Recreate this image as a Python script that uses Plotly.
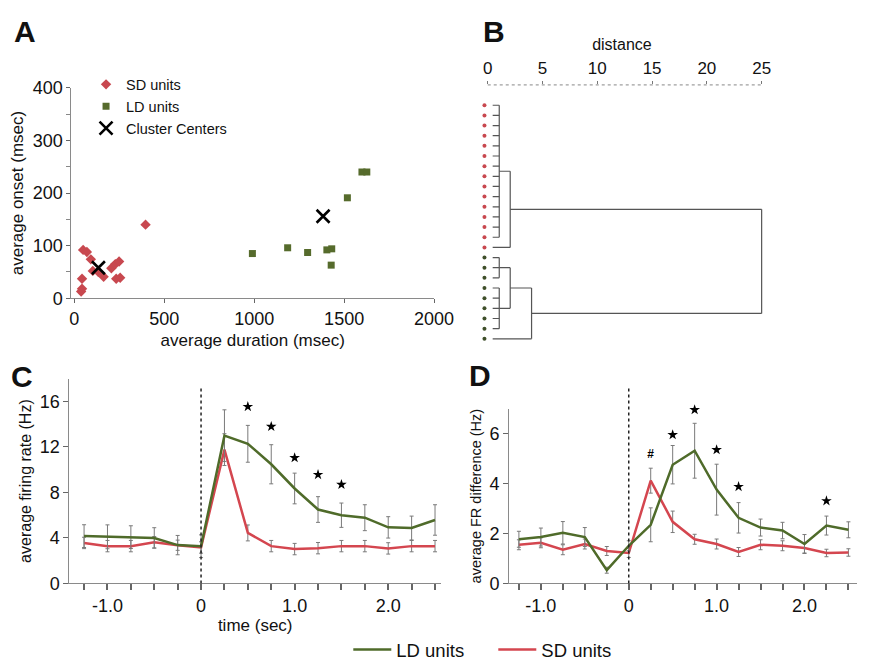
import plotly.graph_objects as go

W, H = 877, 663
OFF = 8  # page body margin offset (px) applied by the browser
FONT = "Liberation Sans, Arial, Helvetica, sans-serif"
GREEN = "#4f6b2a"
RED = "#d4464f"
SD_MARK = "#c8484f"
LD_MARK = "#566b2c"
AXC = "#8a8a8a"
ERRC = "#7a7a7a"

# ---------------- Panel A data ----------------
sd_duration = [49, 70, 92, 103, 134, 43, 43, 38, 163, 206, 233, 255, 228, 249, 396]
sd_onset = [92, 88, 74, 52, 50, 37, 18, 13, 41, 57, 37, 39, 65, 70, 140]
ld_duration = [990, 1186, 1297, 1404, 1431, 1428, 1518, 1599, 1626]
ld_onset = [85, 96, 87, 92, 94, 63, 191, 240, 240]
center_duration = [134, 1383]
center_onset = [58, 156]

# ---------------- Panel B data (dendrogram) ----------------
leaf_groups = ["SD"] * 15 + ["LD"] * 9
# (node name, children (leaf indices or node names), merge distance)
dendro_merges = [
    ("n1", list(range(0, 14)), 1.05),
    ("n2", ["n1", 14], 2.05),
    ("n3", [15, 16, 17], 1.05),
    ("n4", [18, 19, 20, 21, 22], 1.05),
    ("n5", ["n3", "n4"], 2.05),
    ("n6", ["n5", 23], 4.0),
    ("root", ["n2", "n6"], 25.0),
]
distance_ticks = [0, 5, 10, 15, 20, 25]

# ---------------- Panel C / D data ----------------
time = [-1.25, -1.0, -0.75, -0.5, -0.25, 0, 0.25, 0.5, 0.75, 1.0, 1.25, 1.5, 1.75, 2.0, 2.25, 2.5]
time_tick_labels = {-1.0: "-1.0", 0: "0", 1.0: "1.0", 2.0: "2.0"}

c_ld = [4.16, 4.10, 4.07, 4.00, 3.37, 3.27, 13.0, 12.28, 10.48, 8.35, 6.5, 6.0, 5.78, 4.93, 4.87, 5.58]
c_ld_err = [1.0, 1.05, 1.0, 0.9, 0.85, 1.0, 2.27, 1.62, 1.72, 1.35, 1.13, 1.07, 1.14, 0.94, 1.05, 1.34]
c_sd = [3.56, 3.28, 3.28, 3.62, 3.36, 3.16, 11.77, 4.44, 3.28, 3.02, 3.10, 3.28, 3.28, 3.08, 3.28, 3.28]
c_sd_err = [0.5, 0.5, 0.5, 0.5, 0.45, 0.5, 1.4, 0.7, 0.5, 0.5, 0.5, 0.5, 0.5, 0.5, 0.5, 0.5]
c_star_time = [0.5, 0.75, 1.0, 1.25, 1.5]
c_star_y = [15.55, 13.8, 11.05, 9.57, 8.7]

d_ld = [1.77, 1.86, 2.03, 1.86, 0.53, 1.51, 2.35, 4.76, 5.32, 3.76, 2.63, 2.24, 2.12, 1.58, 2.32, 2.15]
d_ld_err = [0.32, 0.36, 0.45, 0.38, 0.12, 0.2, 0.68, 0.77, 1.1, 1.02, 0.61, 0.34, 0.33, 0.38, 0.38, 0.32]
d_sd = [1.55, 1.63, 1.35, 1.58, 1.30, 1.22, 4.12, 2.47, 1.77, 1.58, 1.26, 1.55, 1.51, 1.42, 1.22, 1.24]
d_sd_err = [0.2, 0.2, 0.2, 0.2, 0.18, 0.18, 0.5, 0.43, 0.2, 0.2, 0.18, 0.2, 0.2, 0.2, 0.15, 0.15]
d_star_time = [0.5, 0.75, 1.0, 1.25, 2.25]
d_star_y = [5.96, 6.96, 5.36, 3.88, 3.31]
d_hash_time = [0.25]
d_hash_y = [5.15]


def fx(p):
    return (p - OFF) / W


def fy(p):
    return 1 - (p - OFF) / H


def px_x(a, b):
    return [fx(a), fx(b)]


def px_y(top, bottom):
    return [fy(bottom), fy(top)]


fig = go.Figure()

# ---------- Panel A ----------
fig.add_trace(go.Scatter(x=sd_duration, y=sd_onset, mode="markers", name="SD units",
                         marker=dict(symbol="diamond", size=8, color=SD_MARK),
                         xaxis="x", yaxis="y", legend="legend", cliponaxis=False))
fig.add_trace(go.Scatter(x=ld_duration, y=ld_onset, mode="markers", name="LD units",
                         marker=dict(symbol="square", size=7, color=LD_MARK),
                         xaxis="x", yaxis="y", legend="legend", cliponaxis=False))
fig.add_trace(go.Scatter(x=center_duration, y=center_onset, mode="markers", name="Cluster Centers",
                         marker=dict(symbol="x-thin", size=13, line=dict(width=2.6, color="black"),
                                     color="black"),
                         xaxis="x", yaxis="y", legend="legend", cliponaxis=False))

# ---------- Panel B (dendrogram) ----------
LEAF_DOT_X = -0.3
LEAF_LINE_START = 0.45
node_pos = {}
node_h = {}
for i in range(len(leaf_groups)):
    node_pos[i] = i
    node_h[i] = LEAF_LINE_START
dx, dy = [], []
for name, children, h in dendro_merges:
    ys = [node_pos[c] for c in children]
    for c in children:
        dx += [node_h[c], h, None]
        dy += [node_pos[c], node_pos[c], None]
    dx += [h, h, None]
    dy += [min(ys), max(ys), None]
    node_pos[name] = (min(ys) + max(ys)) / 2
    node_h[name] = h
fig.add_trace(go.Scatter(x=dx, y=dy, mode="lines", line=dict(color="#555555", width=1.2),
                         xaxis="x2", yaxis="y2", showlegend=False, hoverinfo="skip"))
leaf_idx = list(range(len(leaf_groups)))
fig.add_trace(go.Scatter(x=[LEAF_DOT_X] * len(leaf_idx), y=leaf_idx, mode="markers",
                         marker=dict(size=4, color=[SD_MARK if g == "SD" else "#3f4f2a" for g in leaf_groups]),
                         xaxis="x2", yaxis="y2", showlegend=False, cliponaxis=False))

# ---------- Panel C ----------
fig.add_trace(go.Scatter(x=time, y=c_sd, mode="lines", name="SD units",
                         line=dict(color=RED, width=2.5),
                         error_y=dict(type="data", array=c_sd_err, color=ERRC, thickness=1, width=2),
                         xaxis="x3", yaxis="y3", legend="legend2"))
fig.add_trace(go.Scatter(x=time, y=c_ld, mode="lines", name="LD units",
                         line=dict(color=GREEN, width=2.5),
                         error_y=dict(type="data", array=c_ld_err, color=ERRC, thickness=1, width=2),
                         xaxis="x3", yaxis="y3", legend="legend2"))
fig.add_trace(go.Scatter(x=c_star_time, y=c_star_y, mode="markers",
                         marker=dict(symbol="star", size=8, color="black"),
                         xaxis="x3", yaxis="y3", showlegend=False))

# ---------- Panel D ----------
fig.add_trace(go.Scatter(x=time, y=d_sd, mode="lines", showlegend=False,
                         line=dict(color=RED, width=2.5),
                         error_y=dict(type="data", array=d_sd_err, color=ERRC, thickness=1, width=2),
                         xaxis="x4", yaxis="y4"))
fig.add_trace(go.Scatter(x=time, y=d_ld, mode="lines", showlegend=False,
                         line=dict(color=GREEN, width=2.5),
                         error_y=dict(type="data", array=d_ld_err, color=ERRC, thickness=1, width=2),
                         xaxis="x4", yaxis="y4"))
fig.add_trace(go.Scatter(x=d_star_time, y=d_star_y, mode="markers",
                         marker=dict(symbol="star", size=8, color="black"),
                         xaxis="x4", yaxis="y4", showlegend=False, cliponaxis=False))
fig.add_trace(go.Scatter(x=d_hash_time, y=d_hash_y, mode="text", text=["<b>#</b>"],
                         textfont=dict(size=12, color="black", family=FONT),
                         xaxis="x4", yaxis="y4", showlegend=False))

tickfont = dict(size=18, color="#111", family=FONT)
common_ax = dict(showgrid=False, zeroline=False, showline=True, linecolor=AXC, linewidth=1,
                 ticks="outside", tickcolor="#666", tickfont=tickfont)

time_tickvals = time
time_ticktext = [time_tick_labels.get(t, "") for t in time]

fig.update_layout(
    width=W, height=H, margin=dict(l=0, r=0, t=0, b=0),
    paper_bgcolor="white", plot_bgcolor="white",
    font=dict(family=FONT, color="#111"),
    # Panel A
    xaxis=dict(domain=px_x(71, 443), range=[-16, 2000], anchor="y",
               tickvals=[0, 500, 1000, 1500, 2000], ticklen=4,
               title=dict(text="average duration (msec)", font=dict(size=17), standoff=6), **common_ax),
    yaxis=dict(domain=px_y(80, 297), range=[0, 400], anchor="x",
               tickvals=[0, 100, 200, 300, 400], ticklen=4,
               minor=dict(tickvals=[50, 150, 250, 350], ticks="outside", ticklen=4, tickcolor="#888"),
               title=dict(text="average onset (msec)", font=dict(size=17), standoff=4), **common_ax),
    # Panel B
    xaxis2=dict(domain=px_x(486.8, 784.6), range=[-1, 25.5], anchor="y2", side="top",
                showgrid=False, zeroline=False, showline=False, tickvals=distance_ticks,
                ticks="outside", ticklen=3, tickcolor="#777", tickfont=dict(size=17, family=FONT, color="#111"),
                title=dict(text="distance", font=dict(size=16), standoff=4)),
    yaxis2=dict(domain=px_y(77, 344), range=[23.5, -2], anchor="x2", visible=False),
    # Panel C
    xaxis3=dict(domain=px_x(69, 450), range=[-1.406, 2.563], anchor="y3",
                tickvals=time_tickvals, ticktext=time_ticktext, ticklen=6, tickwidth=1.5,
                title=dict(text="time (sec)", font=dict(size=17), standoff=2), **common_ax),
    yaxis3=dict(domain=px_y(380, 591), range=[0, 18], anchor="x3",
                tickvals=[0, 4, 8, 12, 16], ticklen=5,
                title=dict(text="average firing rate (Hz)", font=dict(size=16), standoff=4), **common_ax),
    # Panel D
    xaxis4=dict(domain=px_x(520, 877), range=[-1.361, 2.60], anchor="y4",
                tickvals=time_tickvals, ticktext=time_ticktext, ticklen=6, tickwidth=1.5, **common_ax),
    yaxis4=dict(domain=px_y(411, 591), range=[0, 7], anchor="x4",
                tickvals=[0, 2, 4, 6], ticklen=5,
                title=dict(text="average FR difference (Hz)", font=dict(size=14.5), standoff=4), **common_ax),
    legend=dict(x=fx(86), y=fy(60), xanchor="left", yanchor="top", bgcolor="rgba(0,0,0,0)",
                font=dict(size=14.5, family=FONT), tracegroupgap=0, itemsizing="trace"),
    legend2=dict(x=fx(355), y=fy(640), xanchor="left", yanchor="top", orientation="h",
                 traceorder="reversed", bgcolor="rgba(0,0,0,0)", font=dict(size=18.5, family=FONT),
                 entrywidth=92, itemwidth=38),
)

# dotted top axis line for panel B
fig.add_shape(type="line", xref="x2", yref="y2 domain", x0=distance_ticks[0], x1=distance_ticks[-1],
              y0=1, y1=1, line=dict(color="#888", width=1, dash="dot"))
# dotted stimulus-onset lines
fig.add_shape(type="line", xref="x3", yref="y3 domain", x0=0, x1=0, y0=0, y1=0.967,
              line=dict(color="#222", width=1.5, dash="dot"))
fig.add_shape(type="line", xref="x4", yref="y4 domain", x0=0, x1=0, y0=0, y1=1.133,
              line=dict(color="#222", width=1.5, dash="dot"))

# panel letters
for letter, (cx, cy) in {"A": (23, 22), "B": (504, 22), "C": (20, 378), "D": (490, 377)}.items():
    fig.add_annotation(text=f"<b>{letter}</b>", x=fx(cx), y=fy(cy), xref="paper", yref="paper",
                       showarrow=False, font=dict(size=30, family=FONT, color="#111"),
                       xanchor="center", yanchor="middle")

fig.write_html("out.html")
